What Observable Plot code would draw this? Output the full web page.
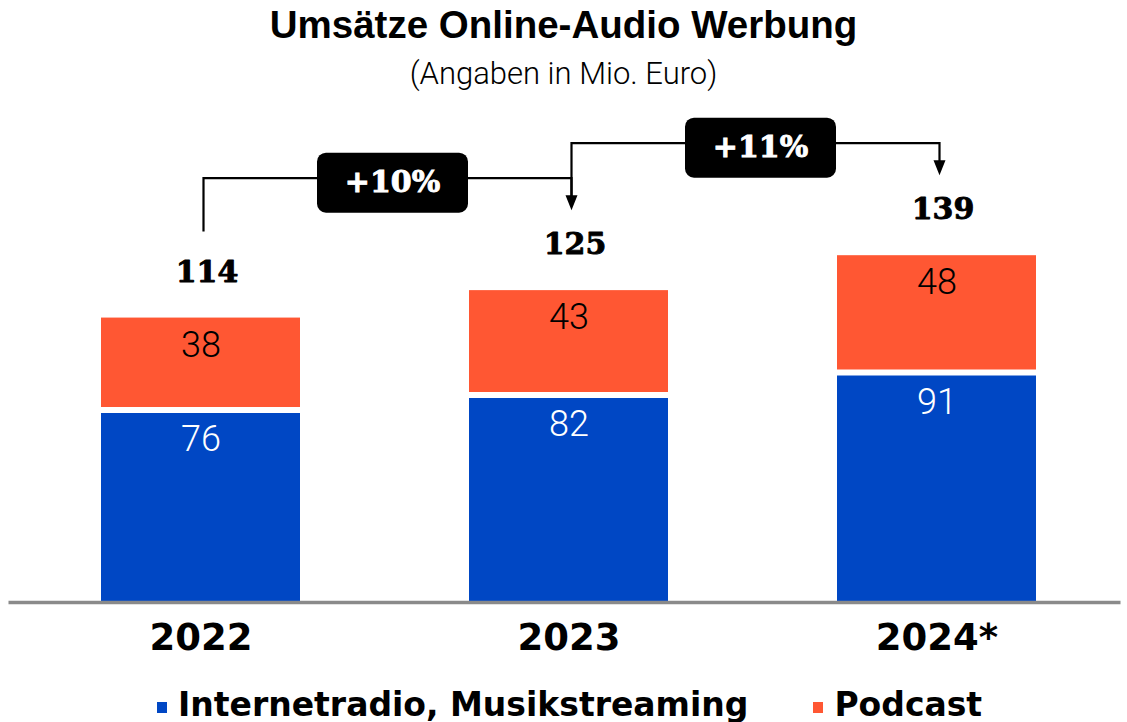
<!DOCTYPE html>
<html>
<head>
<meta charset="utf-8">
<script src="https://cdn.jsdelivr.net/npm/d3@7"></script>
<script src="https://cdn.jsdelivr.net/npm/@observablehq/plot@0.6"></script>
<style>
  html, body { margin: 0; padding: 0; background: #fff; }
  #wrap { position: relative; width: 1127px; height: 722px; overflow: hidden; }
  #title { position: absolute; left: 0; width: 1127px; top: 5px; text-align: center;
    font-family: "Liberation Sans", Arial, sans-serif; font-weight: bold; font-size: 38.5px; line-height: 40px; color: #000; }
  #subtitle { position: absolute; left: 0; width: 1127px; top: 56px; text-align: center;
    font-family: Roboto, "Liberation Sans", sans-serif; font-weight: 300; font-size: 31px; line-height: 36px; color: #000; }
  #chart { position: absolute; left: 0; top: 100px; }
  #legend { position: absolute; left: 157px; top: 684px; height: 40px; display: flex; align-items: center;
    font-family: "DejaVu Sans", sans-serif; font-weight: bold; font-size: 33px; color: #000; white-space: nowrap; }
  #legend .sw { display: inline-block; width: 10px; height: 11px; margin-right: 11px; margin-top: 6px; }
  #legend .item { display: flex; align-items: center; margin-right: 65px; }
</style>
</head>
<body>
<div id="wrap">
  <div id="title">Umsätze Online-Audio Werbung</div>
  <div id="subtitle">(Angaben in Mio. Euro)</div>
  <div id="chart"></div>
  <div id="legend"></div>
</div>
<script>
// ---- data ----
const years = ["2022", "2023", "2024*"];
const seriesNames = ["Internetradio, Musikstreaming", "Podcast"];
const internet = [76, 82, 91];
const podcast = [38, 43, 48];
const changeLabels = ["+10%", "+11%"];
const seriesColors = ["#0047C4", "#FF5733"];

const totals = years.map((_, i) => internet[i] + podcast[i]);
const rows = years.flatMap((yr, i) => [
  {year: yr, series: seriesNames[0], value: internet[i], y1: 0, y2: internet[i]},
  {year: yr, series: seriesNames[1], value: podcast[i], y1: internet[i], y2: internet[i] + podcast[i]}
]);
const totalRows = years.map((yr, i) => ({year: yr, total: totals[i]}));

// ---- custom mark: growth connectors ----
function connectors(index, scales) {
  const {x, y} = scales;
  const bw = typeof x.bandwidth === "function" ? x.bandwidth() : 0;
  const cx = (k) => x(k) + bw / 2 + 3;
  const g = d3.create("svg:g");
  changeLabels.forEach((lab, i) => {
    const x0 = cx(years[i]), x1 = cx(years[i + 1]);
    const yStart = y(totals[i]) - 86;
    const level = y(totals[i + 1]) - 112;
    const tip = y(totals[i + 1]) - 80;
    g.append("path")
      .attr("d", `M${x0},${yStart}V${level}H${x1}V${tip - 12}`)
      .attr("fill", "none").attr("stroke", "#000").attr("stroke-width", 2.2);
    g.append("path")
      .attr("d", `M${x1 - 6},${tip - 15}L${x1 + 6},${tip - 15}L${x1},${tip}Z`)
      .attr("fill", "#000");
    const bx = (x0 + x1) / 2 + 5, by = level + 4.5;
    g.append("rect")
      .attr("x", bx - 75.5).attr("y", by - 30).attr("width", 151).attr("height", 60)
      .attr("rx", 9).attr("fill", "#000");
    g.append("text")
      .attr("x", bx).attr("y", by + 9)
      .attr("text-anchor", "middle")
      .attr("font-family", "DejaVu Serif, serif").attr("font-weight", "bold").attr("font-size", 30)
      .attr("fill", "#fff").attr("stroke", "#fff").attr("stroke-width", 0.9)
      .text(lab);
  });
  return g.node();
}

const plot = Plot.plot({
  width: 1127,
  height: 578,
  marginLeft: 16.5,
  marginRight: 6.5,
  marginTop: 0,
  marginBottom: 76,
  x: {domain: years, paddingInner: 0.4592, paddingOuter: 0.2296, label: null},
  y: {domain: [0, 200], range: [502, 3], axis: null},
  color: {domain: seriesNames, range: seriesColors},
  marks: [
    Plot.barY(rows, {x: "year", y1: "y1", y2: "y2", fill: "series"}),
    Plot.tickY(rows.filter(d => d.series === seriesNames[0]), {x: "year", y: "y2", stroke: "#fff", strokeWidth: 6, dy: -3}),
    Plot.text(rows.filter(d => d.series === seriesNames[0]), {
      x: "year", y: "y2", text: d => String(d.value), dy: 27, fill: "#fff",
      fontFamily: "Roboto, sans-serif", fontWeight: 300, fontSize: 36
    }),
    Plot.text(rows.filter(d => d.series === seriesNames[1]), {
      x: "year", y: "y2", text: d => String(d.value), dy: 27, fill: "#000",
      fontFamily: "Roboto, sans-serif", fontWeight: 300, fontSize: 36
    }),
    Plot.text(totalRows, {
      x: "year", y: "total", text: d => String(d.total), dy: -46, dx: 6, fill: "#000",
      stroke: "#000", strokeWidth: 0.9,
      fontFamily: "DejaVu Serif, serif", fontWeight: "bold", fontSize: 30
    }),
    Plot.ruleY([0], {stroke: "#8a8a8a", strokeWidth: 3.5, insetLeft: -8}),
    Plot.axisX({tickSize: 0, tickPadding: 21, fontSize: 37, fontWeight: "bold", fontFamily: "DejaVu Sans, sans-serif", fill: "#000", label: null}),
    connectors
  ]
});
plot.style.fontFamily = "DejaVu Sans, sans-serif";
plot.style.overflow = "visible";
document.getElementById("chart").appendChild(plot);

// ---- legend ----
const legend = document.getElementById("legend");
seriesNames.forEach((name, i) => {
  const item = document.createElement("span");
  item.className = "item";
  const sw = document.createElement("span");
  sw.className = "sw";
  sw.style.background = seriesColors[i];
  item.appendChild(sw);
  item.appendChild(document.createTextNode(name));
  legend.appendChild(item);
});
</script>
</body>
</html>
